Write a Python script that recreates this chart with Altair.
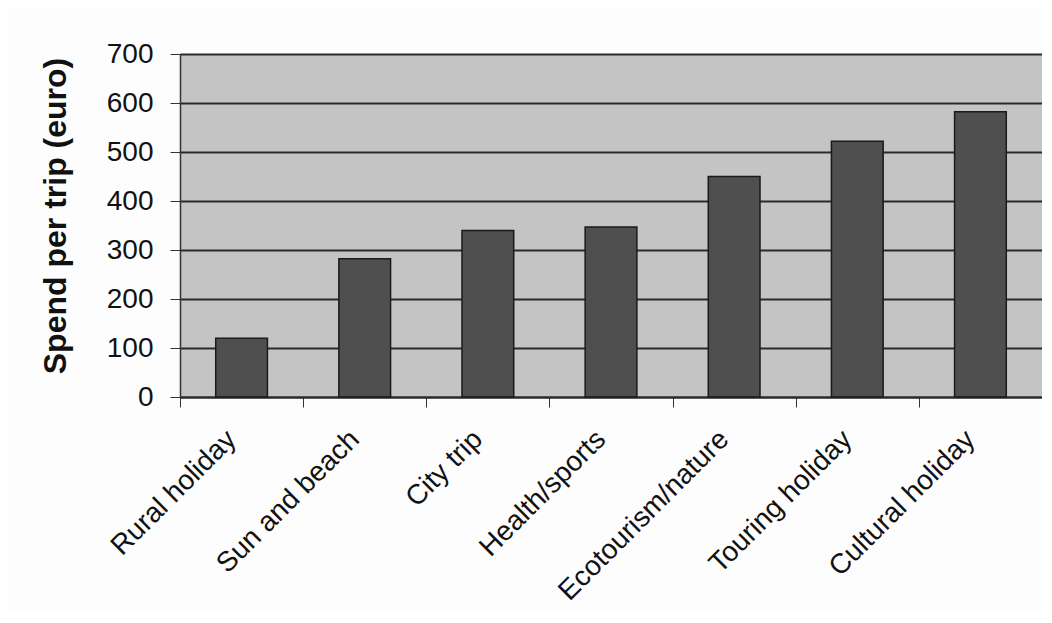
import altair as alt
import pandas as pd

categories = ["Rural holiday", "Sun and beach", "City trip", "Health/sports",
              "Ecotourism/nature", "Touring holiday", "Cultural holiday"]
spend = [120, 282, 340, 347, 450, 522, 582]

df = pd.DataFrame({"category": categories, "spend": spend})

FONT = "Liberation Sans"
H = 343

chart = alt.Chart(df).mark_bar(
    color="#4f4f4f", stroke="#1a1a1a", strokeWidth=1.5,
    width=alt.RelativeBandSize(0.42)
).encode(
    x=alt.X("category:N", sort=categories, title=None,
            scale=alt.Scale(paddingInner=0, paddingOuter=0),
            axis=alt.Axis(labelAngle=-45, labelAlign="right", labelBaseline="top",
                          labelFontSize=28, labelFont=FONT, labelColor="#111111",
                          labelPadding=18, labelOffset=-20, tickBand="extent", tickSize=10,
                          tickColor="#333333", domainColor="#2a2a2a", domainWidth=2,
                          grid=False, labelOverlap=False, labelLimit=400)),
    y=alt.Y("spend:Q", title="Spend per trip (euro)",
            scale=alt.Scale(domain=[0, 700], nice=False),
            axis=alt.Axis(values=[0, 100, 200, 300, 400, 500, 600, 700],
                          labelFontSize=28, labelFont=FONT, labelColor="#111111",
                          labelPadding=17, tickSize=10, tickColor="#333333",
                          domainColor="#333333", domainWidth=1.5,
                          gridColor="#2a2a2a", gridWidth=2, gridOpacity=1,
                          titleFont=FONT, titleFontSize=32, titleFontWeight="bold",
                          titleColor="#111111", titleAngle=-90,
                          titleAlign="center", titleBaseline="middle",
                          titleX=-125, titleY=H / 2 - 10))
).properties(
    width=862, height=H,
    autosize=alt.AutoSizeParams(type="none"),
    padding={"left": 172, "top": 46, "right": 0, "bottom": 214},
    background="#fdfdfd"
).configure_view(
    fill="#c4c4c4", stroke=None
)

chart.save("out.html", embed_options={"renderer": "svg", "actions": False})
